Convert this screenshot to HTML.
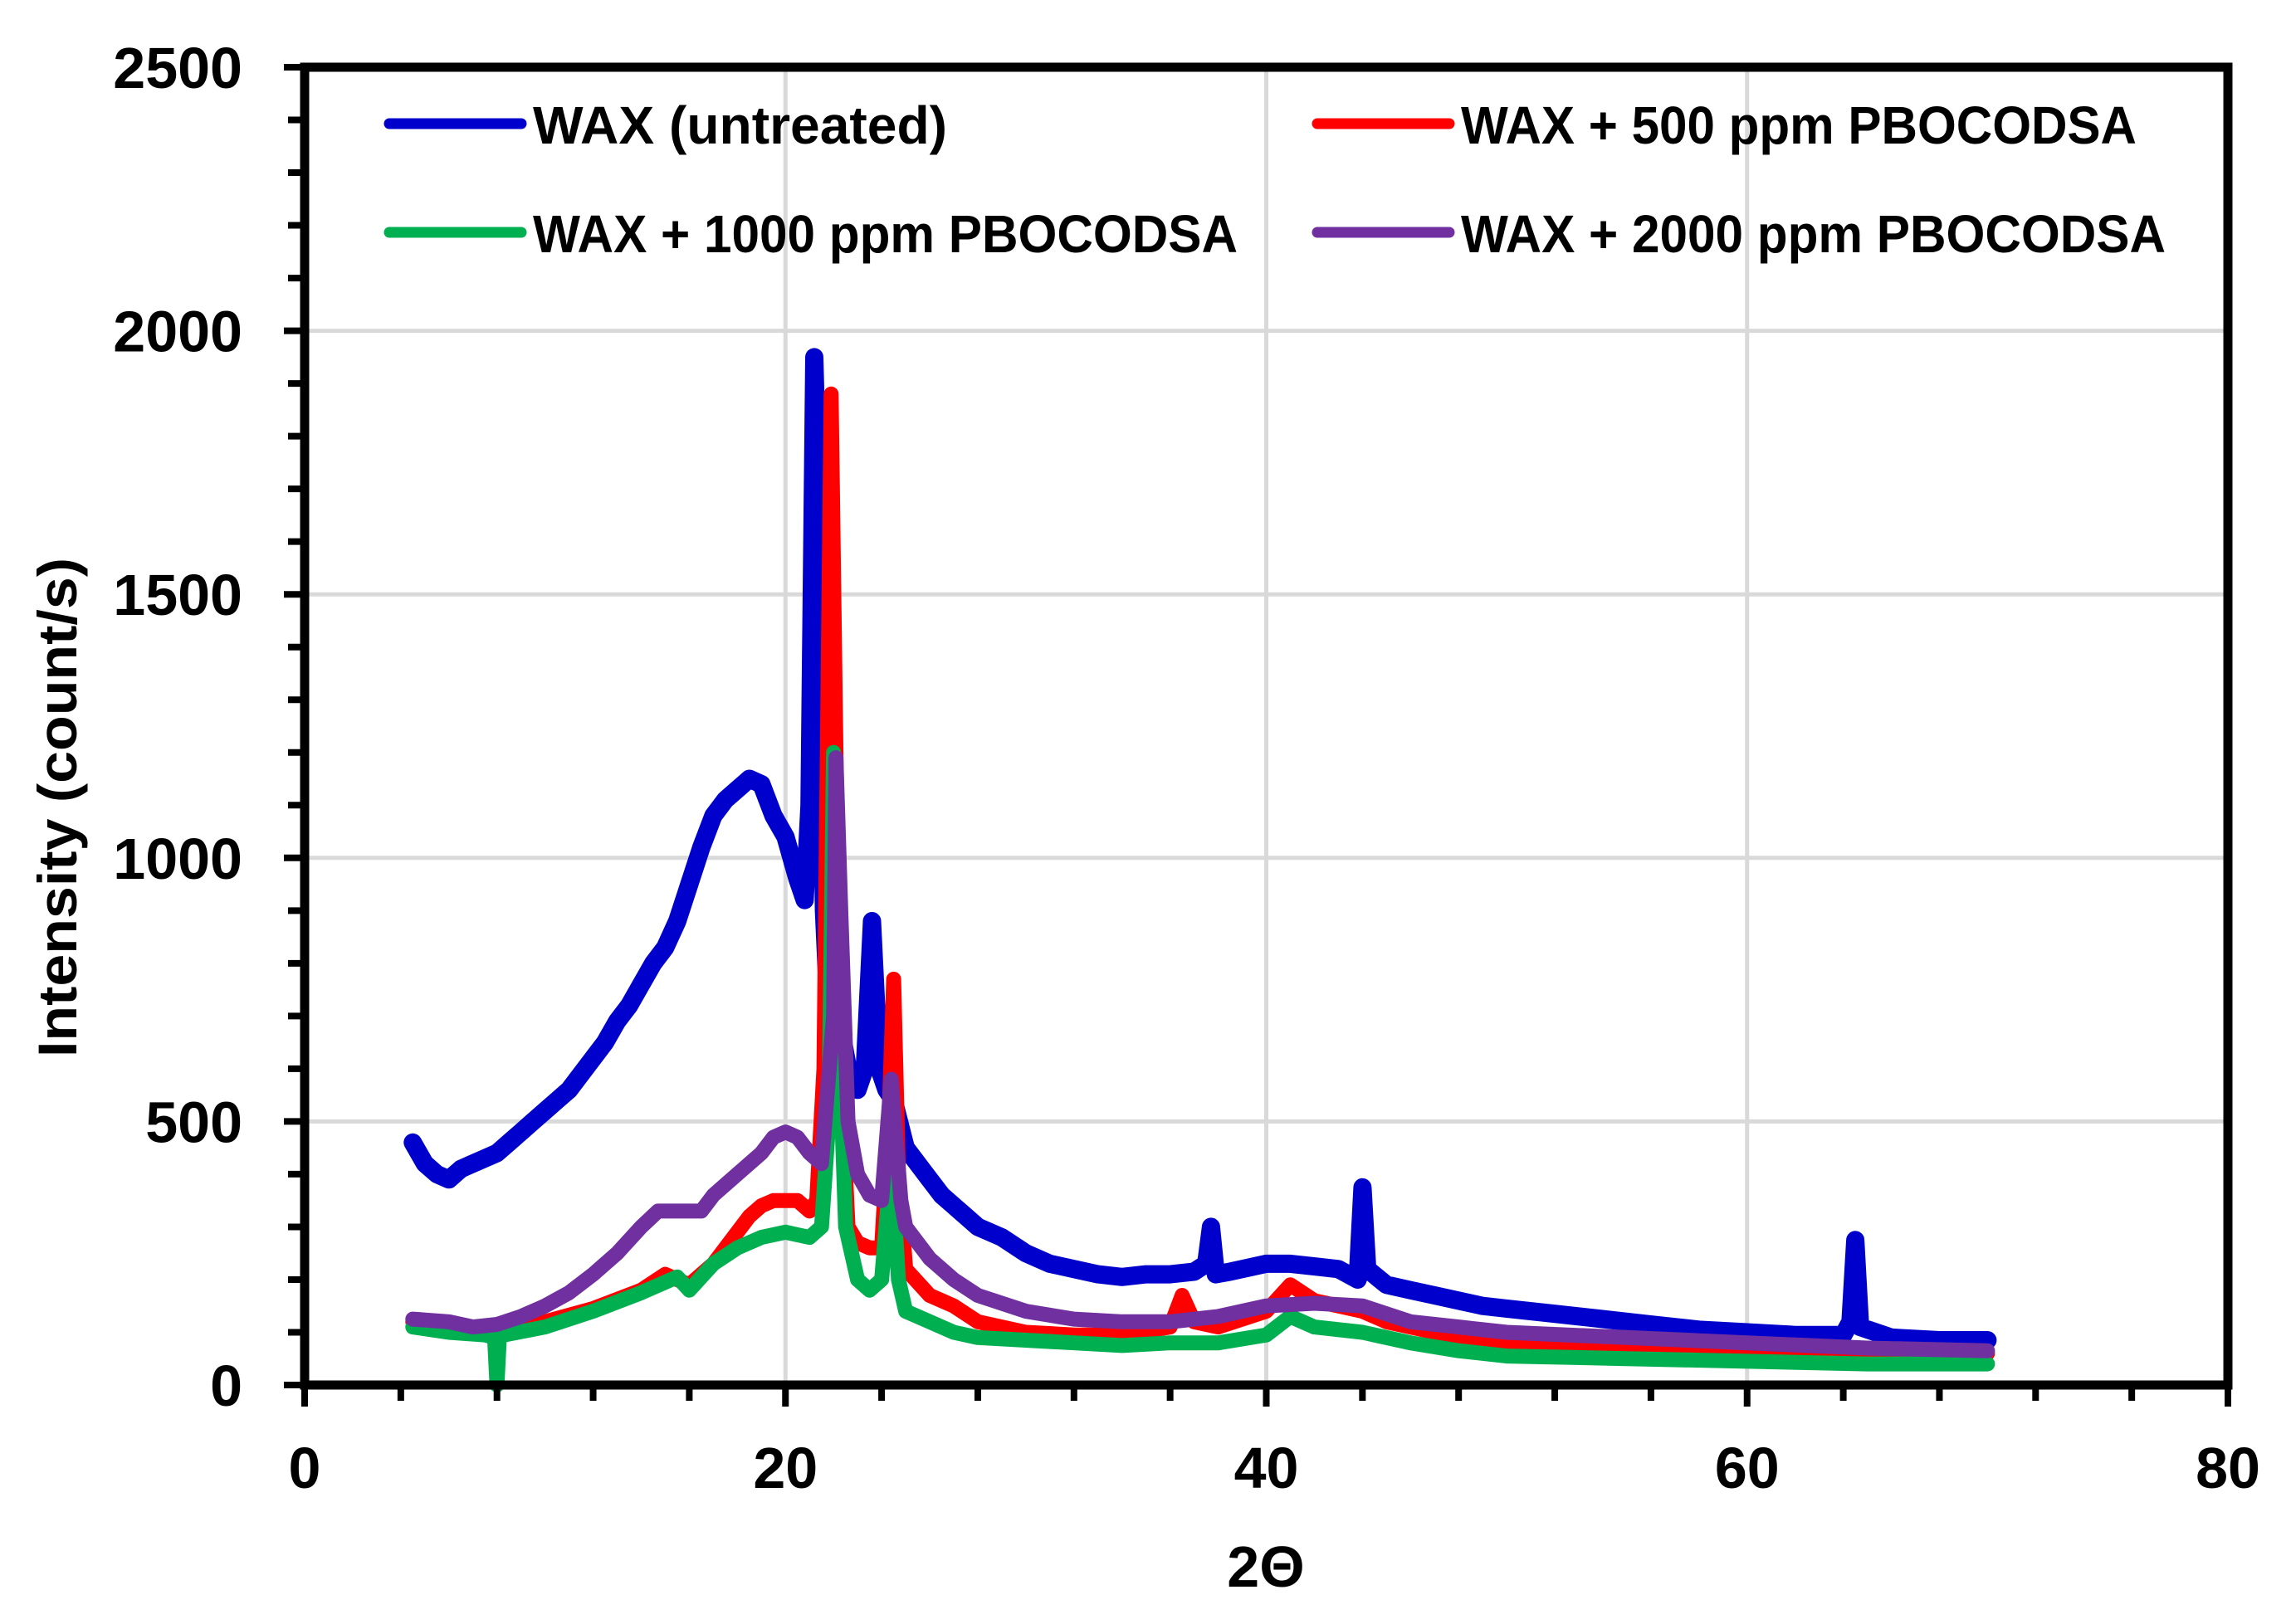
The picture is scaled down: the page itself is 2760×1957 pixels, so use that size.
<!DOCTYPE html>
<html><head><meta charset="utf-8"><style>html,body{margin:0;padding:0;background:#fff}svg{display:block}</style></head>
<body>
<svg id="chart" width="2760" height="1957" xmlns="http://www.w3.org/2000/svg" font-family="Liberation Sans, sans-serif" font-weight="bold">
<g id="grid"></g>
<g id="series"></g>
<g id="axes"></g>
<g id="legend"></g>
<text x="1525" y="1912" font-size="70" text-anchor="middle">2Θ</text>
<text transform="translate(92,973) rotate(-90)" font-size="66" text-anchor="middle" textLength="602" lengthAdjust="spacingAndGlyphs">Intensity (count/s)</text>
</svg>
<script>
const xTicks=[0,20,40,60,80];
const yTicks=[0,500,1000,1500,2000,2500];
const blueX=[4.5,5,5.5,6,6.5,7,7.5,8,8.5,9,9.5,10,10.5,11,11.5,12,12.5,13,13.5,14,14.5,15,15.5,16,16.5,17,17.5,18,18.5,19,19.5,20,20.5,20.8,21,21.2,21.4,21.6,21.8,22,22.2,22.6,23,23.3,23.6,23.9,24.2,24.5,25,25.5,26,26.5,27,27.5,28,29,30,31,32,33,34,35,36,37,37.5,37.7,37.9,38.5,39,40,41,42,43,43.8,44,44.2,45,46,47,48,49,50,52,54,56,58,60,62,64,64.3,64.5,64.7,66,68,70];
const blueY=[460,420,400,390,410,420,430,440,460,480,500,520,540,560,590,620,650,690,720,760,800,830,880,950,1020,1080,1110,1130,1150,1140,1080,1040,960,920,1100,1950,1600,900,700,750,700,600,560,600,880,600,560,540,450,420,390,360,340,320,300,280,250,230,220,210,205,210,210,215,230,300,210,215,220,230,230,225,220,200,375,220,190,180,170,160,150,145,135,125,115,105,100,95,95,120,275,110,90,85,85];
const redX=[4.5,6,8,10,12,14,15,16,17,18,18.5,19,19.5,20,20.5,21,21.3,21.6,21.9,22.1,22.3,22.6,23,23.5,24,24.3,24.5,24.7,25,26,27,28,30,32,34,36,36.5,37,38,40,41,42,43,44,45,47,50,55,60,65,70];
const redY=[120,115,105,120,145,180,210,190,230,290,320,340,350,350,350,330,350,600,1880,1200,600,300,270,260,260,500,770,400,220,170,150,120,100,95,95,110,170,120,110,140,190,160,150,140,120,100,80,70,60,55,60];
const greenX=[4.5,6,7.5,7.9,8,8.1,8.3,10,12,14,15.5,16,17,18,19,20,20.5,21,21.5,21.8,22,22.2,22.5,23,23.5,24,24.4,24.7,25,26,27,28,30,32,34,36,38,40,41,42,44,46,48,50,55,60,65,70];
const greenY=[110,100,95,90,0,90,95,110,140,175,205,180,230,260,280,290,285,280,300,500,1200,700,300,200,180,200,420,200,140,120,100,90,85,80,75,80,80,95,130,110,100,80,65,55,50,45,40,40];
const purpleX=[4.5,6,7,8,9,10,11,12,13,14,14.7,15,16.5,17,18,19,19.5,20,20.5,21,21.5,22,22.1,22.3,22.6,23,23.5,24,24.4,24.8,25,26,27,28,30,32,34,36,38,40,42,44,46,48,50,55,60,65,70];
const purpleY=[125,120,110,115,130,150,175,210,250,300,330,330,330,360,400,440,470,480,470,440,420,700,1190,900,500,400,360,350,580,350,300,240,200,170,140,125,120,120,130,150,155,150,120,110,100,90,80,70,65];
const seriesNames=["WAX (untreated)","WAX + 500 ppm PBOCODSA","WAX + 1000 ppm PBOCODSA","WAX + 2000 ppm PBOCODSA"];
const NS="http://www.w3.org/2000/svg";
const L=367,R=2684,T=81,B=1669;
function sx(v){return L+(v-0)/80*(R-L);}
function sy(v){return B-(v-0)/2500*(B-T);}
function mk(tag,attrs,parent){const e=document.createElementNS(NS,tag);for(const k in attrs)e.setAttribute(k,attrs[k]);parent.appendChild(e);return e;}
const grid=document.getElementById('grid'),axes=document.getElementById('axes'),ser=document.getElementById('series'),leg=document.getElementById('legend');
xTicks.forEach(t=>{if(t>0&&t<80){const g=mk('line',{x1:sx(t),x2:sx(t),y1:T,y2:B,stroke:'#d9d9d9','stroke-width':5},grid);

}
const lb=mk('text',{x:sx(t),y:1793,'font-size':70,'text-anchor':'middle'},axes);lb.textContent=t;

});
yTicks.forEach(t=>{if(t>0&&t<2500){const g=mk('line',{x1:L,x2:R,y1:sy(t),y2:sy(t),stroke:'#d9d9d9','stroke-width':5},grid);

}
const lb=mk('text',{x:292,y:sy(t)+25,'font-size':70,'text-anchor':'end'},axes);lb.textContent=t;

});
for(let v=0;v<=80;v+=4){const maj=v%20===0;const tk=mk('line',{x1:sx(v),x2:sx(v),y1:B,y2:maj?1695:1688,stroke:'#000','stroke-width':8},axes);

}
for(let v=0;v<=2500;v+=100){const maj=v%500===0;const tk=mk('line',{x1:maj?342:347,x2:L,y1:sy(v),y2:sy(v),stroke:'#000','stroke-width':8},axes);

}
const frame=mk('rect',{x:L,y:T,width:R-L,height:B-T,fill:'none',stroke:'#000','stroke-width':11},axes);


const cols=['#0000cc','#ff0000','#00b050','#7030a0'];
const widths=[22,18,18,18];
const data=[[blueX,blueY],[redX,redY],[greenX,greenY],[purpleX,purpleY]];
[0,1,2,3].forEach(i=>{const [xs,ys]=data[i];const d=xs.map((x,j)=>(j?'L':'M')+sx(x).toFixed(1)+','+sy(ys[j]).toFixed(1)).join('');
const p=mk('path',{d:d,fill:'none',stroke:cols[i],'stroke-width':widths[i],'stroke-linejoin':'round','stroke-linecap':'round'},ser);

});
const legPos=[[469,149,642,499],[1587,149,1760,814],[469,280,642,849],[1587,280,1760,849]];
legPos.forEach((q,i)=>{const ln=mk('line',{x1:q[0],x2:q[0]+159,y1:q[1],y2:q[1],stroke:cols[i],'stroke-width':13,'stroke-linecap':'round'},leg);


const tx=mk('text',{x:q[2],y:q[1]+24,'font-size':64,textLength:q[3],lengthAdjust:'spacingAndGlyphs'},leg);tx.textContent=seriesNames[i];

});
</script>
</body></html>
